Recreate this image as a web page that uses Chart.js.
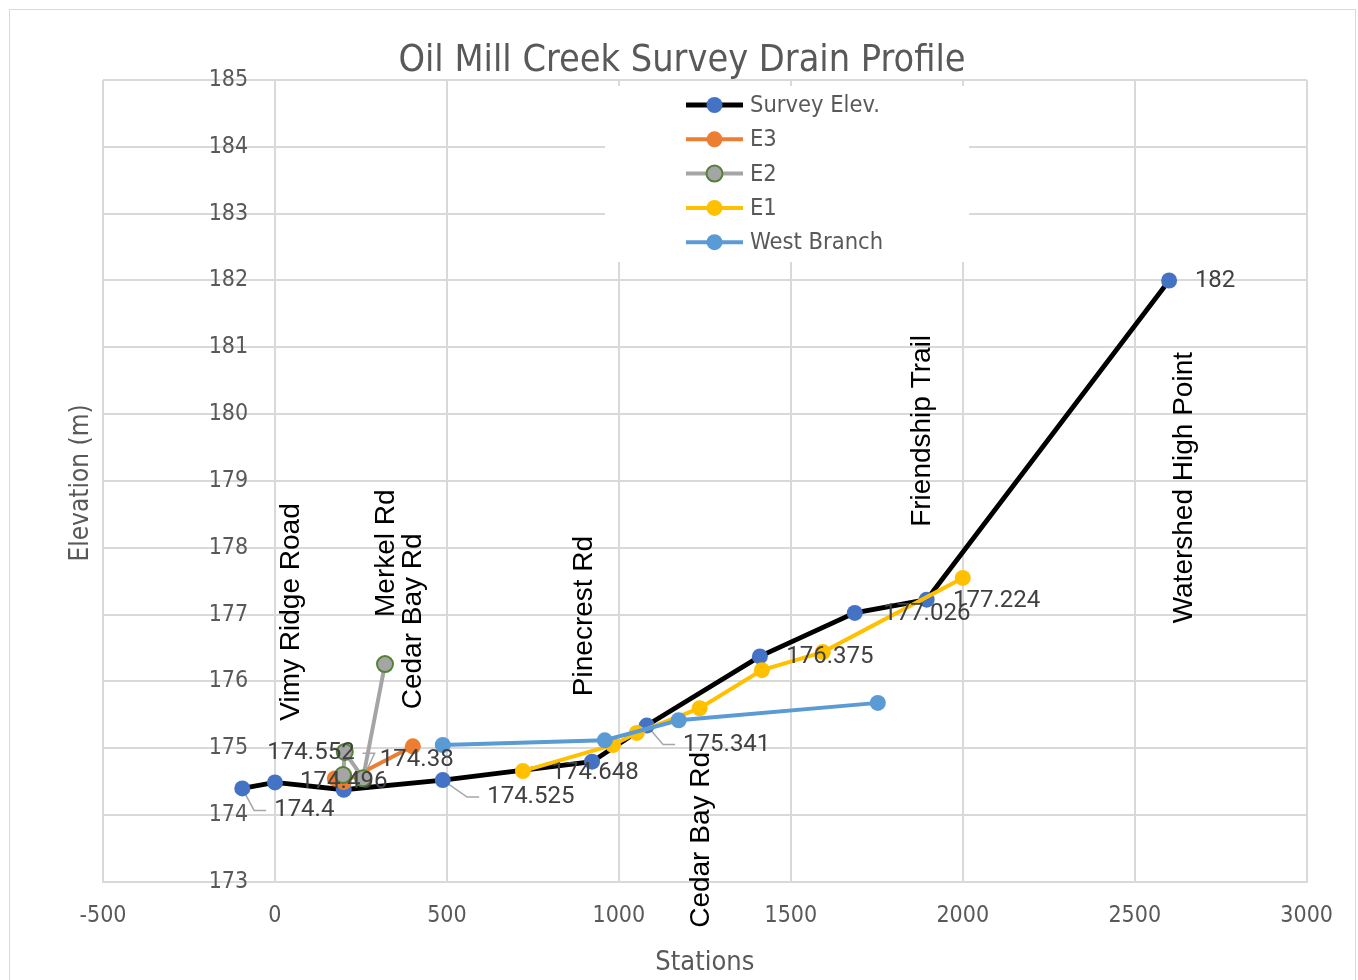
<!DOCTYPE html>
<html>
<head>
<meta charset="utf-8">
<script src="https://cdn.jsdelivr.net/npm/chart.js@4.4.0/dist/chart.umd.min.js"></script>
<style>
  html, body { margin: 0; padding: 0; background: #fff; }
  #wrap { position: relative; width: 1358px; height: 980px; overflow: hidden; }
  #frame { position: absolute; left: 9px; top: 9px; width: 1347px; height: 990px; border: 1px solid #d9d9d9; box-sizing: border-box; }
  canvas { position: absolute; left: 0; top: 0; }
</style>
</head>
<body>
<div id="wrap">
  <div id="frame"></div>
  <canvas id="profileChart" width="1358" height="980"></canvas>
</div>
<script>
// DATA (stations in m, elevations in m)
const surveyStations = [-95, 0, 200, 488, 922, 1081, 1410, 1686, 1895, 2600];
const surveyElev = [174.40, 174.49, 174.38, 174.525, 174.80, 175.341, 176.375, 177.026, 177.224, 182];
const surveyLabels = ["174.4", null, "174.38", "174.525", "174.648", "175.341", "176.375", "177.026", "177.224", "182"];

const e3Stations = [174, 200, 401];
const e3Elev = [174.55, 174.496, 175.03];
const e3Labels = [null, "174.496", null];

const e2Stations = [198, 203, 256, 320];
const e2Elev = [174.60, 174.945, 174.552, 176.26];
const e2Labels = [null, null, "174.552", null];

const e1Stations = [721, 983, 1052, 1235, 1416, 1593, 2000];
const e1Elev = [174.66, 175.05, 175.23, 175.60, 176.17, 176.44, 177.55];

const westStations = [488, 959, 1174, 1753];
const westElev = [175.05, 175.12, 175.42, 175.68];

// road crossings: name, station, elevation at text centre
const roadNames = ["Vimy Ridge Road", "Merkel Rd", "Cedar Bay Rd", "Pinecrest Rd", "Cedar Bay Rd", "Friendship Trail", "Watershed High Point"];
const roadStations = [47, 323, 401, 898, 1241, 1881, 2645];
const roadElev = [177.04, 177.92, 176.90, 176.98, 173.63, 179.75, 178.90];

const xTicks = { min: -500, max: 3000, step: 500 };
const yTicks = { min: 173, max: 185, step: 1 };

const chartTitle = "Oil Mill Creek Survey Drain Profile";

// label placement (pixel offset of text centre from point, leader line)
const surveyLabelPos = [[62, 22, true], null, [73, -30, false], [88, 17, true], [3, 11, false], [80, 19, true], [70, 1, false], [72, 1, false], [70, 1, false], [46, 1, false]];
const e3LabelPos = [null, [0, 0, false], null];
const e2LabelPos = [null, null, [-52, -25, true], null];

const NARROW = "'Liberation Sans Narrow', 'DejaVu Sans Condensed', sans-serif";
const GREY_TEXT = "#595959";
const GRID = "#d9d9d9";

function toPoints(xs, ys) {
    return xs.map((x, i) => ({ x: x, y: ys[i] }));
}

function series(label, xs, ys, lineColor, fill, border, width, order) {
    return {
        label,
        data: toPoints(xs, ys),
        borderColor: lineColor,
        backgroundColor: fill,
        borderWidth: width,
        pointBackgroundColor: fill,
        pointBorderColor: border,
        pointBorderWidth: border === fill ? 0 : 2,
        pointRadius: 8,
        pointHoverRadius: 8,
        tension: 0,
        order
    };
}

const datasets = [
    series("Survey Elev.", surveyStations, surveyElev, "#000000", "#4472C4", "#4472C4", 4.8, 5),
    series("E3", e3Stations, e3Elev, "#ED7D31", "#ED7D31", "#ED7D31", 4, 4),
    series("E2", e2Stations, e2Elev, "#A5A5A5", "#A5A5A5", "#548235", 4, 3),
    series("E1", e1Stations, e1Elev, "#FFC000", "#FFC000", "#FFC000", 4, 2),
    series("West Branch", westStations, westElev, "#5B9BD5", "#5B9BD5", "#5B9BD5", 4, 1)
];

const labelSets = [
    { ds: 0, texts: surveyLabels, pos: surveyLabelPos },
    { ds: 1, texts: e3Labels, pos: e3LabelPos },
    { ds: 2, texts: e2Labels, pos: e2LabelPos }
];

function eachLabel(chart, fn) {
    const ctx = chart.ctx;
    ctx.font = "24px Roboto";
    labelSets.forEach(set => {
        const meta = chart.getDatasetMeta(set.ds);
        set.texts.forEach((txt, i) => {
            if (!txt || !set.pos[i]) return;
            const pt = meta.data[i];
            const [dx, dy, leader] = set.pos[i];
            const w = ctx.measureText(txt).width;
            fn(txt, pt.x, pt.y, pt.x + dx, pt.y + dy, w, leader);
        });
    });
}

const extras = {
    id: "profileExtras",
    beforeDatasetsDraw(chart) {
        const ctx = chart.ctx;
        ctx.save();

        // legend panel sits inside the plot and hides the grid
        ctx.fillStyle = "#ffffff";
        ctx.fillRect(605, 86, 364, 176);
        chart.data.datasets.forEach((ds, i) => {
            const y = 105 + i * 34.3;
            ctx.strokeStyle = ds.borderColor;
            ctx.lineWidth = ds.borderWidth;
            ctx.beginPath();
            ctx.moveTo(686, y);
            ctx.lineTo(743, y);
            ctx.stroke();
            ctx.beginPath();
            ctx.arc(714.5, y, 8, 0, Math.PI * 2);
            ctx.fillStyle = ds.pointBackgroundColor;
            ctx.fill();
            if (ds.pointBorderWidth) {
                ctx.lineWidth = ds.pointBorderWidth;
                ctx.strokeStyle = ds.pointBorderColor;
                ctx.stroke();
            }
            ctx.fillStyle = GREY_TEXT;
            ctx.font = "23.5px " + NARROW;
            ctx.textAlign = "left";
            ctx.textBaseline = "middle";
            ctx.fillText(ds.label, 750, y + 1);
        });

        // leader lines
        ctx.strokeStyle = "#a6a6a6";
        ctx.lineWidth = 1.5;
        eachLabel(chart, (txt, px, py, cx, cy, w, leader) => {
            if (!leader) return;
            const toRight = cx > px;
            const end = toRight ? cx - w / 2 - 8 : cx + w / 2 + 8;
            const elbow = toRight ? end - 12 : end + 12;
            ctx.beginPath();
            ctx.moveTo(px, py);
            ctx.lineTo(elbow, cy);
            ctx.lineTo(end, cy);
            ctx.stroke();
        });
        ctx.restore();
    },
    afterDatasetsDraw(chart) {
        const ctx = chart.ctx;
        const xs = chart.scales.x;
        const ys = chart.scales.y;
        ctx.save();

        // data labels
        ctx.fillStyle = "#404040";
        ctx.textAlign = "center";
        ctx.textBaseline = "middle";
        eachLabel(chart, (txt, px, py, cx, cy) => {
            ctx.fillText(txt, cx, cy);
        });

        // road names, vertical
        ctx.fillStyle = "#000000";
        ctx.font = "28px 'Liberation Sans', Arial, sans-serif";
        roadNames.forEach((name, i) => {
            ctx.save();
            ctx.translate(xs.getPixelForValue(roadStations[i]), ys.getPixelForValue(roadElev[i]));
            ctx.rotate(-Math.PI / 2);
            ctx.fillText(name, 0, 0);
            ctx.restore();
        });

        // chart title, centred on the whole canvas
        ctx.fillStyle = GREY_TEXT;
        ctx.font = "37.5px " + NARROW;
        ctx.fillText(chartTitle, chart.width / 2 + 3, 61);

        // y axis title at the far left of the plot
        const area = chart.chartArea;
        ctx.font = "26px " + NARROW;
        ctx.translate(area.left - 22, (area.top + area.bottom) / 2 + 2);
        ctx.rotate(-Math.PI / 2);
        ctx.fillText("Elevation (m)", 0, 0);
        ctx.restore();
    }
};

new Chart(document.getElementById("profileChart"), {
    type: "line",
    data: { datasets },
    options: {
        responsive: false,
        animation: false,
        layout: {
            padding: { left: 103, right: 51, top: 80, bottom: 5 }
        },
        plugins: {
            legend: { display: false },
            tooltip: { enabled: false },
            title: { display: false }
        },
        scales: {
            x: {
                type: "linear",
                position: "bottom",
                min: xTicks.min,
                max: xTicks.max,
                ticks: {
                    stepSize: xTicks.step,
                    color: GREY_TEXT,
                    font: { family: NARROW, size: 23, lineHeight: 0.783 },
                    padding: 25,
                    maxRotation: 0,
                    callback: v => String(v)
                },
                grid: { color: GRID, lineWidth: 2, drawTicks: false },
                border: { color: GRID, width: 2 },
                title: {
                    display: true,
                    text: "Stations",
                    color: GREY_TEXT,
                    font: { family: NARROW, size: 27, lineHeight: 0.926 },
                    padding: { top: 0, bottom: 0 }
                }
            },
            y: {
                type: "linear",
                position: { x: -78 },
                min: yTicks.min,
                max: yTicks.max,
                ticks: {
                    stepSize: yTicks.step,
                    color: GREY_TEXT,
                    font: { family: NARROW, size: 23 },
                    callback: v => String(v)
                },
                grid: { color: GRID, lineWidth: 2, drawTicks: false },
                border: { display: false }
            }
        }
    },
    plugins: [extras]
});
</script>
</body>
</html>
